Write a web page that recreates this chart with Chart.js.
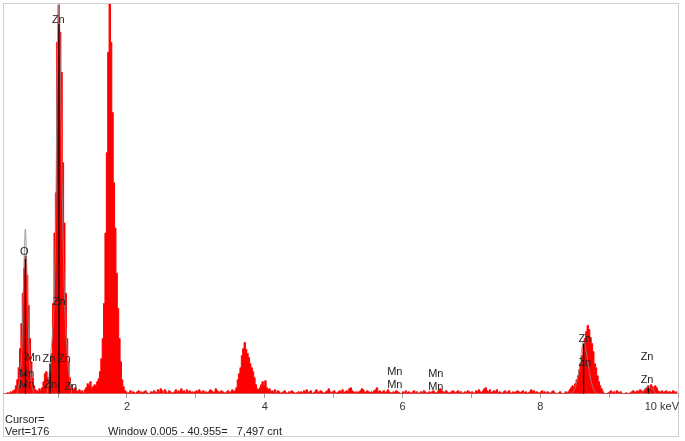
<!DOCTYPE html>
<html>
<head>
<meta charset="utf-8">
<script src="https://cdn.jsdelivr.net/npm/chart.js@4"></script>
<style>
  body { margin: 0; background: #fff; }
  #wrap { position: relative; width: 685px; height: 441px; }
  #spectrum { position: absolute; left: 0; top: 0; }
  #frame { position: absolute; left: 3px; top: 3px; width: 676px; height: 434px; border: 1px solid #cfcfcf; box-sizing: border-box; }
  .foot { position: absolute; font: 11px "Liberation Sans", Arial, sans-serif; color: #222; white-space: pre; line-height: 13px; }
</style>
</head>
<body>
<div id="wrap">
  <div id="frame"></div>
  <canvas id="spectrum" width="685" height="441"></canvas>
  <div class="foot" style="left:5px; top:413px;">Cursor=</div>
  <div class="foot" style="left:5px; top:425px;">Vert=176</div>
  <div class="foot" style="left:108px; top:425px;">Window 0.005 - 40.955=   7,497 cnt</div>
</div>
<script>
// channel layout (keV)
let chStart = 0.21;
let chWidth = 0.02;

// counts per channel
let counts = [
  0,0,0,1,0,2,1,3,
  4,8,14,26,45,70,100,125,137,118,88,55,32,16,8,4,          // O K
  3,2,5,3,6,12,20,22,16,14,22,40,
  90,160,200,350,387,360,320,230,170,100,55,32,16,9,5,      // Zn L
  4,6,3,2,4,2,3,1,4,6,10,8,12,5,7,9,
  8,12,15,22,35,55,90,160,240,340,388,350,280,210,165,120,85,55,32,14,7,3,  // Si K
  2,0,1,3,0,2,1,0,2,3, 1,2,0,2,3,1,0,0,2,1, 3,2,1,4,2,5,3,1,4,2,
  0,3,2,1,0,2,4,1,3,2, 5,2,3,1,4,2,3,1,2,0, 2,3,1,4,2,1,3,0,2,1,
  2,4,3,1,2,5,3,2,1,3, 2,1,0,2,3,1,2,4,2,
  3,6,14,20,26,38,45,51,44,40,36,30,26,22,16,9,5,4,6,9,12,8,13,6,4,5,2,  // Ca K
  3,2,4,1,3,2,0,1,2,3,1,0,2,1,3,2,1,0,1,2,
  0,2,1,3,2,4,1,2,3,0,1,2,4,2,1,3,2,1,0,2,
  3,5,2,1,2,3,1,0,2,3,2,4,1,2,3,2,5,6,3,2,
  1,2,0,2,3,5,4,2,1,3,2,1,2,0,3,4,6,2,3,1,
  2,3,1,2,4,2,1,0,2,1,3,2,1,0,0,2,1,3,1,2,
  1,0,2,3,1,2,0,1,2,1,3,2,1,0,2,1,2,3,1,0,
  2,4,5,3,2,1,3,2,1,0,2,3,2,1,2,3,1,2,0,1,
  2,1,3,2,1,2,0,1,3,2,4,2,1,3,5,6,3,2,4,1,
  2,3,2,4,1,2,1,0,2,3,1,2,3,1,0,2,1,2,3,2,
  1,2,3,1,2,0,1,2,4,2,3,1,2,1,0,2,3,1,2,1,
  2,1,0,2,3,1,0,0,1,2,0,0,0,2,1,
  2,4,6,8,7,10,14,18,24,30,38,48,55,62,68,64,56,50,42,30,26,18,12,8,5,2,  // Zn K
  0,0,0,1,
  2,3,1,2,0,3,2,1,2,0,
  0,0,1,0,0,
  1,2,3,2,1,3,2,4,3,2,3,5,
  6,8,5,9,7,4,8,6,3,2,                                       // Zn Kb
  2,3,1,2,3,1,2,2,1,3,2,1,2
];

// fitted peak outlines (grey)
let fitKeV = [0.40,0.44,0.47,0.49,0.51,0.525,0.54,0.56,0.58,0.61,0.65, null,
              0.84,0.87,0.90,0.93,0.96,0.99,1.012,1.03,1.06,1.10,1.15,1.20, null,
              8.45,8.50,8.55,8.58,8.61,8.63,8.66,8.70,8.74,8.78,8.82, null,
              9.45,9.52,9.57,9.62,9.69];
let fitCnt = [0,12,40,90,140,164,140,90,40,12,0, null,
              0,20,45,70,150,330,388,340,200,80,25,0, null,
              0,5,18,32,48,53,45,28,12,4,0, null,
              0,5,8,5,0];

// element marker lines
let markerKeV = [0.525, 0.884, 1.012, 8.63, 9.57];
let markerTop = [134, 30, 368, 50, 6];

// peak labels
let labelText = ['Zn','O','Zn','Mn','Zn','Zn','Mn','Mn','Zn','Zn','Mn','Mn','Mn','Mn','Zn','Zn','Zn','Zn'];
let labelKeV = [1.003,0.509,1.017,0.640,0.868,1.090,0.544,0.544,0.892,1.183,5.889,5.889,6.484,6.484,8.647,8.647,9.551,9.551];
let labelCnt = [372,141,91,36,35,35,20,9,9,7,22,9,20,7,55,31,37,14];

let tickLabels = [2, 4, 6, 8];

let spectrumData = counts.map((c, i) => ({ x: chStart + i * chWidth, y: c }));
let fitData = fitKeV.map((k, i) => (k === null ? { x: 0.3, y: null } : { x: k, y: fitCnt[i] }));
let markerData = [];
markerKeV.forEach((k, i) => {
  markerData.push({ x: k, y: 0 });
  markerData.push({ x: k, y: markerTop[i] });
  markerData.push({ x: k, y: null });
});

let labelFont = '11px "Liberation Sans", Arial, sans-serif';

let peakLabels = {
  id: 'peakLabels',
  afterDatasetsDraw(chart) {
    let ctx = chart.ctx;
    let xs = chart.scales.x;
    let ys = chart.scales.y;
    ctx.save();
    ctx.font = labelFont;
    ctx.fillStyle = '#222';
    ctx.textAlign = 'center';
    ctx.textBaseline = 'middle';
    labelText.forEach((t, i) => {
      ctx.fillText(t, xs.getPixelForValue(labelKeV[i]), ys.getPixelForValue(labelCnt[i]));
    });
    // unit on last tick
    ctx.fillStyle = '#333';
    ctx.textAlign = 'right';
    ctx.fillText('10 keV', xs.getPixelForValue(10) + 1, xs.top + 13.5);
    ctx.restore();
  }
};

new Chart(document.getElementById('spectrum'), {
  type: 'line',
  data: {
    datasets: [
      {
        label: 'markers',
        data: markerData,
        borderColor: '#000',
        borderWidth: 1.2,
        pointRadius: 0,
        spanGaps: false,
        fill: false
      },
      {
        label: 'fit',
        data: fitData,
        borderColor: 'rgba(140,140,140,0.85)',
        borderWidth: 1,
        pointRadius: 0,
        tension: 0.35,
        spanGaps: false,
        fill: false
      },
      {
        label: 'spectrum',
        data: spectrumData,
        stepped: 'middle',
        fill: 'origin',
        backgroundColor: '#ff0000',
        borderColor: '#ff0000',
        borderWidth: 1,
        pointRadius: 0
      }
    ]
  },
  options: {
    responsive: false,
    animation: false,
    events: [],
    layout: { padding: { left: 3, right: 7, top: 4, bottom: 24 } },
    plugins: { legend: { display: false }, tooltip: { enabled: false } },
    scales: {
      x: {
        type: 'linear',
        min: 0.2,
        max: 10,
        grid: { drawOnChartArea: false, drawTicks: true, tickLength: 4, color: '#9a9a9a' },
        border: { display: true, color: '#a8a8a8' },
        ticks: {
          stepSize: 1,
          includeBounds: false,
          autoSkip: false,
          maxRotation: 0,
          color: '#333',
          font: { family: '"Liberation Sans", Arial, sans-serif', size: 11 },
          callback: (v) => (tickLabels.includes(v) ? String(v) : '')
        }
      },
      y: { display: false, min: 0, max: 388 }
    }
  },
  plugins: [peakLabels]
});
</script>
</body>
</html>
